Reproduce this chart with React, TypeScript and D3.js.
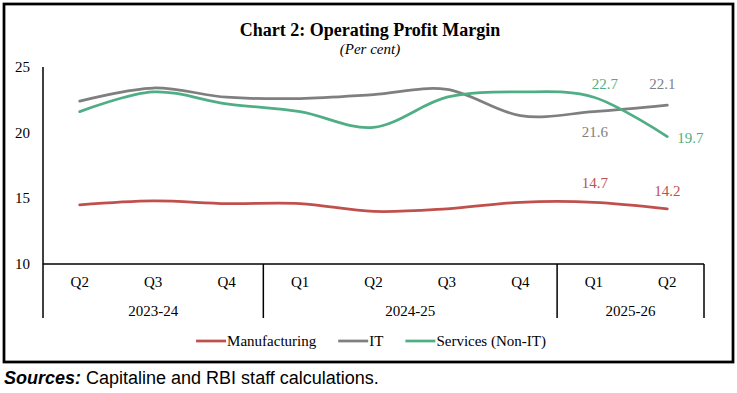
import React, { useEffect, useRef } from 'react';
import * as d3 from 'd3';

// quarters and fiscal years on the x axis
const quarters = ['Q2', 'Q3', 'Q4', 'Q1', 'Q2', 'Q3', 'Q4', 'Q1', 'Q2'];
const years = [
  { label: '2023-24', from: 0, to: 3 },
  { label: '2024-25', from: 3, to: 7 },
  { label: '2025-26', from: 7, to: 9 },
];

// operating profit margin, per cent
const manufacturing = [14.5, 14.8, 14.6, 14.6, 14.0, 14.2, 14.7, 14.7, 14.2];
const it = [22.4, 23.4, 22.7, 22.6, 22.9, 23.3, 21.3, 21.6, 22.1];
const services = [21.6, 23.1, 22.2, 21.6, 20.4, 22.7, 23.1, 22.7, 19.7];

const yTicks = [10, 15, 20, 25];

const series = [
  { name: 'Manufacturing', values: manufacturing, color: '#c0504d' },
  { name: 'IT', values: it, color: '#7f7f7f' },
  { name: 'Services (Non-IT)', values: services, color: '#50ae84' },
];

// data labels on the last two quarters: series index, point index, offsets
const labels = [
  { s: 2, i: 7, dx: 11, dy: -13, anchor: 'middle' },
  { s: 1, i: 8, dx: -5, dy: -21, anchor: 'middle' },
  { s: 1, i: 7, dx: 1, dy: 20, anchor: 'middle' },
  { s: 2, i: 8, dx: 10, dy: 1, anchor: 'start' },
  { s: 0, i: 7, dx: 1, dy: -19, anchor: 'middle' },
  { s: 0, i: 8, dx: 0, dy: -18, anchor: 'middle' },
];

const W = 737;
const H = 393;
const serif = '"Liberation Serif", "Times New Roman", serif';

const App = () => {
  const ref = useRef<SVGSVGElement | null>(null);

  useEffect(() => {
    if (!ref.current) return;
    const svg = d3.select(ref.current);
    svg.selectAll('*').remove();

    const left = 43, right = 704, top = 67, bottom = 264;

    const x = d3.scaleBand<number>()
      .domain(d3.range(quarters.length))
      .range([left, right]);
    const y = d3.scaleLinear().domain([10, 25]).range([bottom, top]);
    const cx = (i: number) => x(i)! + x.bandwidth() / 2;

    // frame
    svg.append('rect')
      .attr('x', 4).attr('y', 4)
      .attr('width', 729).attr('height', 358)
      .attr('fill', 'white')
      .attr('stroke', 'black')
      .attr('stroke-width', 2.75);

    // title
    svg.append('text')
      .attr('x', 370).attr('y', 36)
      .attr('text-anchor', 'middle')
      .attr('font-family', serif)
      .attr('font-weight', 'bold')
      .attr('font-size', 18)
      .text('Chart 2: Operating Profit Margin');
    svg.append('text')
      .attr('x', 370).attr('y', 54)
      .attr('text-anchor', 'middle')
      .attr('font-family', serif)
      .attr('font-style', 'italic')
      .attr('font-size', 15)
      .text('(Per cent)');

    // y axis labels
    svg.append('g')
      .selectAll('text')
      .data(yTicks)
      .enter()
      .append('text')
      .attr('x', 30)
      .attr('y', (d) => y(d) + 5)
      .attr('text-anchor', 'end')
      .attr('font-family', serif)
      .attr('font-size', 15)
      .text((d) => d);

    const axisCol = '#000';
    // y axis line
    svg.append('line')
      .attr('x1', left).attr('x2', left)
      .attr('y1', top).attr('y2', 318)
      .attr('stroke', axisCol).attr('stroke-width', 1.5);
    // x axis line
    svg.append('line')
      .attr('x1', left).attr('x2', right)
      .attr('y1', bottom).attr('y2', bottom)
      .attr('stroke', axisCol).attr('stroke-width', 1.5);

    // group separators
    const seps = years.map((g) => g.to).map((t) => x(t - 1)! + x.bandwidth());
    svg.append('g')
      .selectAll('line')
      .data(seps)
      .enter()
      .append('line')
      .attr('x1', (d) => d).attr('x2', (d) => d)
      .attr('y1', bottom).attr('y2', 318)
      .attr('stroke', axisCol).attr('stroke-width', 1.5);

    // quarter labels
    svg.append('g')
      .selectAll('text')
      .data(quarters)
      .enter()
      .append('text')
      .attr('x', (_, i) => cx(i))
      .attr('y', 287)
      .attr('text-anchor', 'middle')
      .attr('font-family', serif)
      .attr('font-size', 15)
      .text((d) => d);

    // year labels
    svg.append('g')
      .selectAll('text')
      .data(years)
      .enter()
      .append('text')
      .attr('x', (d) => (x(d.from)! + x(d.to - 1)! + x.bandwidth()) / 2)
      .attr('y', 316)
      .attr('text-anchor', 'middle')
      .attr('font-family', serif)
      .attr('font-size', 15)
      .text((d) => d.label);

    // lines
    const line = d3.line<number>()
      .x((_, i) => cx(i))
      .y((d) => y(d))
      .curve(d3.curveCatmullRom.alpha(0));

    svg.append('g')
      .selectAll('path')
      .data(series)
      .enter()
      .append('path')
      .attr('d', (d) => line(d.values))
      .attr('fill', 'none')
      .attr('stroke', (d) => d.color)
      .attr('stroke-width', 2.75)
      .attr('stroke-linecap', 'round');

    // data labels
    svg.append('g')
      .selectAll('text')
      .data(labels)
      .enter()
      .append('text')
      .attr('x', (d) => cx(d.i) + d.dx)
      .attr('y', (d) => y(series[d.s].values[d.i]) + d.dy + 5)
      .attr('text-anchor', (d) => d.anchor)
      .attr('font-family', serif)
      .attr('font-size', 15)
      .attr('fill', (d) => series[d.s].color)
      .text((d) => series[d.s].values[d.i].toFixed(1));

    // legend, centred under the plot
    const lg = svg.append('g');
    let pos = 0;
    series.forEach((s, k) => {
      const item = lg.append('g').attr('transform', `translate(${pos},0)`);
      item.append('line')
        .attr('x1', 0).attr('x2', 30)
        .attr('y1', 0).attr('y2', 0)
        .attr('stroke', s.color).attr('stroke-width', 2.75);
      const t = item.append('text')
        .attr('x', 31).attr('y', 5)
        .attr('font-family', serif)
        .attr('font-size', 15)
        .text(s.name);
      const w = (t.node() as SVGTextElement).getComputedTextLength();
      pos += 31 + w + (k < series.length - 1 ? 22 : 0);
    });
    lg.attr('transform', `translate(${371 - pos / 2},341)`);

    // sources note
    const src = svg.append('text')
      .attr('x', 4).attr('y', 384)
      .attr('font-family', '"Liberation Sans", Arial, sans-serif')
      .attr('font-size', 18);
    src.append('tspan')
      .attr('font-weight', 'bold')
      .attr('font-style', 'italic')
      .text('Sources:');
    src.append('tspan').text(' Capitaline and RBI staff calculations.');
  }, []);

  return (
    <svg
      ref={ref}
      width={W}
      height={H}
      style={{ position: 'absolute', left: 0, top: 0, background: 'white' }}
    />
  );
};

export default App;
